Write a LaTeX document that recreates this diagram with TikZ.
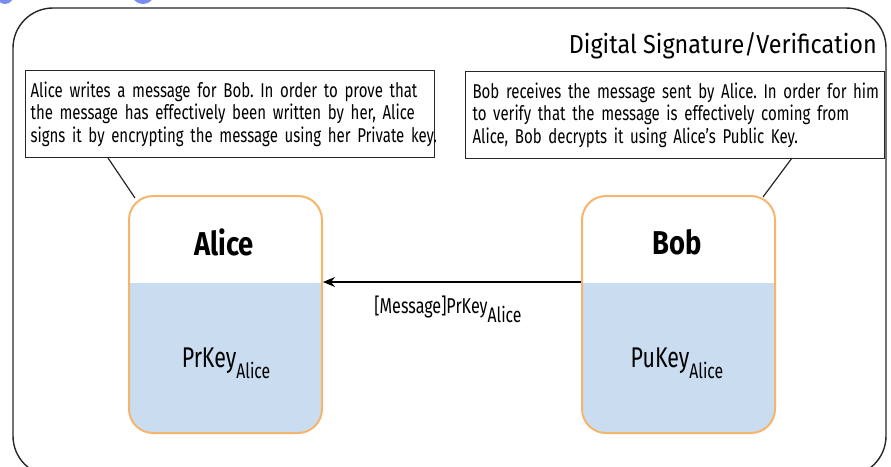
\documentclass[tikz,border=0pt]{standalone}
\usepackage{fontspec}
\setmainfont{Fira Sans}[FakeStretch=0.75]
\newfontfamily\titlefont{Fira Sans}[FakeStretch=0.9]
\newfontfamily\namefont{Fira Sans}[FakeStretch=0.83]
\usetikzlibrary{arrows.meta,calc}
\definecolor{boxorange}{HTML}{F6B56B}
\definecolor{boxblue}{HTML}{C9DCF0}
\definecolor{headblue}{HTML}{7B8CF0}
\frenchspacing
\begin{document}
\begin{tikzpicture}[x=1pt,y=-1pt,
  frame/.style={draw=black!85, line width=1.4pt, rounded corners=40pt},
  callout/.style={draw=black!85, line width=1.2pt, anchor=north west, inner sep=5pt,
    text width=399pt, align=left, minimum height=87pt, font=\fontsize{20}{22.3}\selectfont},
  party/.style={draw=boxorange, line width=2pt, rounded corners=24pt, anchor=north west,
    minimum width=193pt, minimum height=237pt, inner sep=0pt,
    path picture={\fill[boxblue, sharp corners] (path picture bounding box.south west) rectangle
      ([yshift=-87pt]path picture bounding box.north east);}},
  partyname/.style={font=\namefont\fontsize{33}{36}\selectfont\bfseries, inner sep=0pt},
  keylab/.style={font=\fontsize{28.5}{30}\selectfont, inner sep=0pt},
  msg/.style={font=\fontsize{21.5}{24}\selectfont, inner sep=0pt},
  pointer/.style={draw=black!85, line width=1.2pt}
]
\useasboundingbox (0,0) rectangle (891,466);
\clip (0,0) rectangle (891,466);
% cut-off heading fragments
\fill[headblue] (5,-6) ellipse (9pt and 10pt);
\fill[headblue] (143,-6) ellipse (11pt and 10pt);
% outer frame
\draw[frame] (13,8) rectangle (886,476);
\node[anchor=base east, inner sep=0pt, font=\titlefont\fontsize{26}{30}\selectfont] (title) at (877,53) {Digital Signature/Verification};
% callouts
\node[callout] (lefttext) at (25,70) {\mbox{Alice writes a message for Bob. In order to prove that}\\\mbox{the message has effectively been written by her, Alice}\\\mbox{signs it by encrypting the message using her Private key.}};
\node[callout, minimum width=419pt, inner xsep=7pt, text width=405pt] (righttext) at (465,71) {\mbox{Bob receives the message sent by Alice. In order for him}\\\mbox{to verify that the message is effectively coming from}\\\mbox{Alice, Bob decrypts it using Alice's Public Key.}};
% parties
\node[party] (alice) at (128,195) {};
\node[party] (bob) at (581,195) {};
\node[partyname] (alicename) at (224,242) {Alice};
\node[partyname] (bobname) at (677,242) {Bob};
\node[keylab, anchor=base] (alicekey) at (226,367) {PrKey\raisebox{-11pt}{\fontsize{21}{22}\selectfont Alice}};
\node[keylab, anchor=base] (bobkey) at (677,367) {PuKey\raisebox{-11pt}{\fontsize{21}{22}\selectfont Alice}};
% callout pointers
\coordinate (lp1) at (108,158);
\coordinate (lp2) at (135,198);
\coordinate (rp1) at (792,158);
\coordinate (rp2) at (763,197);
\draw[pointer] (lp1) -- (lp2);
\draw[pointer] (rp1) -- (rp2);
% message arrow
\draw[line width=1.3pt, -{Stealth[length=12pt,width=10pt]}] (bob.west |- 0,282) -- node[msg, anchor=base, yshift=-31pt, xshift=-4pt] (msglabel) {[Message]PrKey\raisebox{-9pt}{\fontsize{21}{22}\selectfont Alice}} (alice.east |- 0,282);
\end{tikzpicture}
\end{document}
